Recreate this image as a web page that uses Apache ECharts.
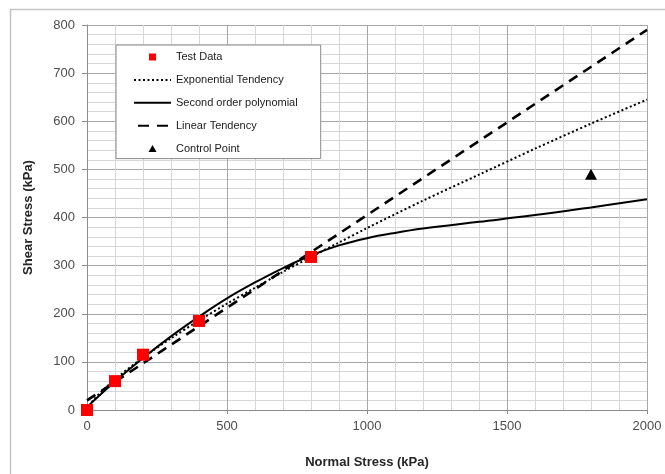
<!DOCTYPE html>
<html>
<head>
<meta charset="utf-8">
<title>Shear Stress vs Normal Stress</title>
<script src="https://cdn.jsdelivr.net/npm/echarts@6/dist/echarts.min.js"></script>
<style>
  html, body { margin: 0; padding: 0; background: #ffffff; }
  #chart { width: 665px; height: 474px; }
</style>
</head>
<body>
<div id="chart"></div>
<script>
// Direct shear test results (kPa)
const testStress = [0, 100, 200, 400, 800];
const testShear = [0, 60, 115, 185, 318];

// Control point
const controlStress = [1800];
const controlShear = [490];

// Exponential tendency curve
const expStress = [0, 25, 50, 100, 200, 300, 400, 500, 600, 700, 800, 900, 1000, 1200, 1400, 1600, 1800, 2000];
const expShear = [0, 22, 37, 64, 109, 149, 186, 221, 254, 287, 318, 348, 378, 435, 489, 543, 595, 645];

// Second order polynomial curve
const polyStress = [0, 100, 200, 300, 400, 500, 600, 700, 800, 900, 1000, 1100, 1200, 1400, 1600, 1800, 2000];
const polyShear = [6, 59, 108, 153, 194, 232, 265, 295, 321, 342, 357, 368, 377, 391, 405, 421, 438];

// Linear tendency line
const linStress = [0, 2000];
const linShear = [20, 790];

const seriesNames = ['Test Data', 'Exponential Tendency', 'Second order polynomial', 'Linear Tendency', 'Control Point'];

const pairs = (xs, ys) => xs.map((x, i) => [x, ys[i]]);

const FONT = '"Liberation Sans", Arial, sans-serif';

// Legend icons: the leading move-to points fix the icon box to the full
// item size so the marker keeps its small size in the middle of it.
const ICON_SQUARE = 'path://M0,0M37,7M15,0h7v7h-7z';
const ICON_TRIANGLE = 'path://M0,0M37,7M18.5,0L22.5,7H14.5Z';
const hiddenMarker = { opacity: 0 };

const chart = echarts.init(document.getElementById('chart'), null, { renderer: 'canvas' });

chart.setOption({
  backgroundColor: '#ffffff',
  animation: false,
  textStyle: { fontFamily: FONT },
  graphic: [{
    type: 'rect',
    shape: { x: 10.5, y: 9.5, width: 700, height: 500 },
    style: { fill: 'none', stroke: '#c4c4c4', lineWidth: 1.5 },
    silent: true,
    z: -10
  }],
  grid: { left: 87, right: 18, top: 25, bottom: 60, containLabel: false },
  legend: {
    orient: 'vertical',
    left: 116,
    top: 45,
    data: [
      { name: seriesNames[0], icon: ICON_SQUARE },
      { name: seriesNames[1], itemStyle: hiddenMarker },
      { name: seriesNames[2], itemStyle: hiddenMarker },
      { name: seriesNames[3], itemStyle: hiddenMarker, lineStyle: { type: [11, 8], dashOffset: -4 } },
      { name: seriesNames[4], icon: ICON_TRIANGLE }
    ],
    backgroundColor: '#ffffff',
    borderColor: '#8c8c8c',
    borderWidth: 1,
    borderRadius: 0,
    padding: [6, 23, 4, 17],
    itemWidth: 37,
    itemHeight: 7,
    itemGap: 10.9,
    textStyle: { fontFamily: FONT, fontSize: 11, color: '#1a1a1a', lineHeight: 12 },
    selectedMode: false
  },
  xAxis: {
    type: 'value',
    min: 0,
    max: 2000,
    interval: 500,
    name: 'Normal Stress (kPa)',
    nameLocation: 'middle',
    nameGap: 46,
    nameTextStyle: { fontFamily: FONT, fontSize: 13, fontWeight: 'bold', color: '#262626' },
    axisLine: { show: true, lineStyle: { color: '#8c8c8c', width: 1 } },
    axisTick: { show: true, length: 4, lineStyle: { color: '#8c8c8c' } },
    axisLabel: { fontFamily: FONT, fontSize: 13, color: '#4d4d4d', margin: 10, formatter: v => String(v) },
    splitLine: { show: true, lineStyle: { color: '#a6a6a6', width: 1 } },
    minorTick: { show: false, splitNumber: 5 },
    minorSplitLine: { show: true, lineStyle: { color: '#d6d6d6', width: 1 } }
  },
  yAxis: {
    type: 'value',
    min: 0,
    max: 800,
    interval: 100,
    name: 'Shear Stress (kPa)',
    nameLocation: 'middle',
    nameGap: 52,
    nameTextStyle: { fontFamily: FONT, fontSize: 13, fontWeight: 'bold', color: '#262626' },
    axisLine: { show: true, lineStyle: { color: '#8c8c8c', width: 1 } },
    axisTick: { show: true, length: 5, lineStyle: { color: '#8c8c8c' } },
    axisLabel: { fontFamily: FONT, fontSize: 13, color: '#4d4d4d', margin: 12, formatter: v => String(v) },
    splitLine: { show: true, lineStyle: { color: '#a6a6a6', width: 1 } },
    minorTick: { show: false, splitNumber: 5 },
    minorSplitLine: { show: true, lineStyle: { color: '#d6d6d6', width: 1 } }
  },
  series: [
    {
      name: 'Exponential Tendency',
      type: 'line',
      data: pairs(expStress, expShear),
      symbol: 'none',
      smooth: 0.3,
      lineStyle: { color: '#000000', width: 2, type: [2, 2.5] },
      itemStyle: { color: '#000000' },
      z: 3
    },
    {
      name: 'Second order polynomial',
      type: 'line',
      data: pairs(polyStress, polyShear),
      symbol: 'none',
      smooth: 0.4,
      lineStyle: { color: '#000000', width: 2, type: 'solid' },
      itemStyle: { color: '#000000' },
      z: 3
    },
    {
      name: 'Linear Tendency',
      type: 'line',
      data: pairs(linStress, linShear),
      symbol: 'none',
      lineStyle: { color: '#000000', width: 2.6, type: [10, 7] },
      itemStyle: { color: '#000000' },
      z: 3
    },
    {
      name: 'Test Data',
      type: 'scatter',
      data: pairs(testStress, testShear),
      symbol: 'rect',
      symbolSize: 12,
      itemStyle: { color: '#ff0000', opacity: 1 },
      z: 5
    },
    {
      name: 'Control Point',
      type: 'scatter',
      data: pairs(controlStress, controlShear),
      symbol: 'triangle',
      symbolSize: [12, 11],
      itemStyle: { color: '#000000', opacity: 1 },
      z: 5
    }
  ]
});
</script>
</body>
</html>
